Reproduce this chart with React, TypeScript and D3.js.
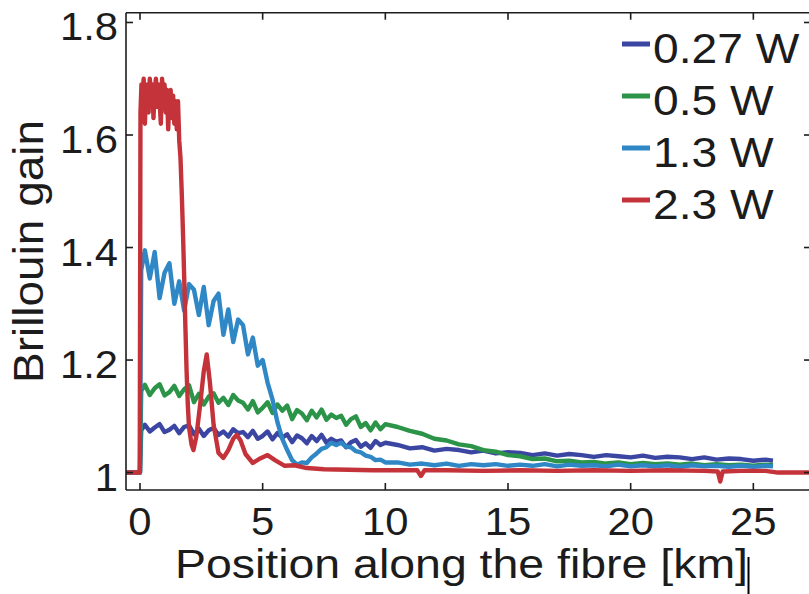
import React from "react";
import * as d3 from "d3";

// ---------- data ----------
const X_TICKS = [0, 5, 10, 15, 20, 25];
const Y_TICKS = [1, 1.2, 1.4, 1.6, 1.8];
const Y_TICK_LABELS = ["1", "1.2", "1.4", "1.6", "1.8"];

const SERIES_NAMES = ["0.27 W", "0.5 W", "1.3 W", "2.3 W"];
const SERIES_COLORS = ["#3b46a2", "#2b9448", "#2f87c6", "#c4333a"];

// shared position grid (km) for the 0.27 W, 0.5 W and 1.3 W traces
const X_GRID = [
  -0.57, 0, 0.05,
  0.2, 0.4, 0.6, 0.8, 1.0, 1.2, 1.4, 1.6, 1.8, 2.0,
  2.2, 2.4, 2.6, 2.8, 3.0, 3.2, 3.4, 3.6, 3.8, 4.0,
  4.2, 4.4, 4.6, 4.8, 5.0, 5.2, 5.4, 5.6, 5.8, 6.0,
  6.2, 6.4, 6.6, 6.8, 7.0, 7.2, 7.4, 7.6, 7.8, 8.0,
  8.2, 8.4, 8.6, 8.8, 9.0, 9.2, 9.4, 9.6, 9.8, 10.0,
  10.5, 11, 11.5, 12, 12.5, 13, 13.5, 14, 14.5, 15, 15.5, 16, 16.5, 17, 17.5,
  18, 18.5, 19, 19.5, 20, 20.5, 21, 21.5, 22, 22.5, 23, 23.5, 24, 24.5, 25, 25.5,
  25.8,
];

const GAIN_027 = [
  1.0, 1.0, 1.075,
  1.085, 1.073, 1.080, 1.086, 1.072, 1.076, 1.083, 1.070, 1.081, 1.084,
  1.068, 1.078, 1.065, 1.075, 1.079, 1.067, 1.073, 1.064, 1.077, 1.070,
  1.072, 1.063, 1.074, 1.060, 1.065, 1.073, 1.059, 1.070, 1.062, 1.068,
  1.054, 1.066, 1.061, 1.052, 1.065, 1.056, 1.067, 1.053, 1.060, 1.055,
  1.057, 1.045, 1.054, 1.058, 1.046, 1.052, 1.044, 1.056, 1.049, 1.053,
  1.049, 1.043, 1.045, 1.039, 1.042, 1.040, 1.036, 1.039, 1.034, 1.036, 1.035, 1.031, 1.034, 1.030, 1.033,
  1.031, 1.028, 1.031, 1.029, 1.027, 1.030, 1.026, 1.028, 1.027, 1.024, 1.027, 1.023, 1.025, 1.024, 1.021, 1.023,
  1.021,
];

const GAIN_05 = [
  1.0, 1.0, 1.145,
  1.156, 1.138, 1.150, 1.157, 1.137, 1.143, 1.154, 1.136, 1.148, 1.155,
  1.125, 1.140, 1.121, 1.135, 1.141, 1.124, 1.133, 1.120, 1.138, 1.128,
  1.124, 1.112, 1.127, 1.107, 1.115, 1.125, 1.106, 1.121, 1.110, 1.119,
  1.095, 1.111, 1.105, 1.093, 1.110, 1.098, 1.112, 1.094, 1.103, 1.097,
  1.101, 1.085, 1.095, 1.100, 1.081, 1.088, 1.075, 1.089, 1.077, 1.086,
  1.081, 1.074, 1.069, 1.060, 1.057, 1.050, 1.047, 1.040, 1.037, 1.031, 1.029, 1.024, 1.025, 1.020, 1.021,
  1.018, 1.019, 1.016, 1.018, 1.015, 1.017, 1.015, 1.016, 1.014, 1.016, 1.013, 1.015, 1.013, 1.014, 1.012, 1.014,
  1.013,
];

const GAIN_13 = [
  1.0, 1.0, 1.36,
  1.395, 1.345, 1.392, 1.31, 1.355, 1.372, 1.30, 1.34, 1.288, 1.335,
  1.325, 1.28, 1.33, 1.262, 1.305, 1.318, 1.245, 1.29, 1.232, 1.272,
  1.262, 1.21, 1.24, 1.19, 1.2, 1.16, 1.13, 1.09, 1.06, 1.04,
  1.022, 1.014, 1.018, 1.017, 1.027, 1.034, 1.042, 1.045, 1.053, 1.049,
  1.053, 1.046, 1.045, 1.038, 1.036, 1.030, 1.028, 1.022, 1.023, 1.018,
  1.018, 1.014, 1.016, 1.013, 1.016, 1.012, 1.015, 1.013, 1.015, 1.012, 1.014, 1.012, 1.015, 1.011, 1.014,
  1.012, 1.013, 1.011, 1.014, 1.011, 1.013, 1.011, 1.013, 1.010, 1.013, 1.011, 1.012, 1.010, 1.012, 1.010, 1.012,
  1.011,
];

// 2.3 W trace has its own grid (denser over the plateau and ripples)
const X_23 = [
  -0.57, -0.01, 0.02, 0.06, 0.1, 0.15, 0.2, 0.25, 0.3, 0.35, 0.4, 0.45, 0.5, 0.55,
  0.6, 0.65, 0.7, 0.75, 0.8, 0.85, 0.9, 0.95, 1.0, 1.05, 1.1, 1.15, 1.2, 1.25, 1.3,
  1.35, 1.4, 1.45, 1.5, 1.55, 1.6, 1.65, 1.7, 1.75, 1.8, 1.85, 1.9, 1.95, 2.0, 2.1,
  2.18, 2.3, 2.45, 2.6, 2.72, 2.85, 3.0, 3.2, 3.4, 3.6, 3.8, 3.95, 4.1, 4.3, 4.6, 4.9,
  5.2, 5.5, 5.9, 6.3, 6.8, 7.5, 8.5, 9.5, 10.5, 11.3, 11.45, 11.6, 12.5, 14, 15.5,
  17, 18.5, 20, 21.5, 23, 23.55, 23.65, 23.75, 24.5, 25.5, 26, 27.4,
];
const GAIN_23 = [
  1.0, 1.0, 1.64, 1.69, 1.67, 1.70, 1.62, 1.68, 1.69, 1.64, 1.70, 1.67, 1.69, 1.63,
  1.68, 1.70, 1.65, 1.69, 1.66, 1.62, 1.70, 1.67, 1.69, 1.64, 1.68, 1.61, 1.67, 1.68, 1.63,
  1.67, 1.62, 1.66, 1.61, 1.66, 1.59, 1.56, 1.50, 1.43, 1.35, 1.26, 1.18, 1.12, 1.08, 1.05,
  1.04, 1.065, 1.12, 1.18, 1.21, 1.16, 1.085, 1.035, 1.026, 1.04, 1.06, 1.067, 1.057, 1.033, 1.017, 1.025,
  1.031, 1.022, 1.012, 1.013, 1.008, 1.006, 1.005, 1.004, 1.004, 1.004, 0.994, 1.004, 1.004, 1.003, 1.004,
  1.003, 1.004, 1.003, 1.004, 1.003, 1.002, 0.984, 1.002, 1.003, 1.003, 1.0, 1.0,
];

// ---------- layout ----------
const W = 809;
const H = 594;
const LEFT = 126;
const RIGHT = 811;
const TOP = 12.7;
const BOTTOM = 490;
const TICK = 7;
const FONT = "'Liberation Sans', Arial, Helvetica, sans-serif";
const INK = "#1c1c1c";

export default function App() {
  const x = d3.scaleLinear().domain([-0.57, 27.35]).range([LEFT, RIGHT]);
  const y = d3.scaleLinear().domain([0.969, 1.8174]).range([BOTTOM, TOP]);

  const line = d3
    .line<[number, number]>()
    .x((d) => x(d[0]))
    .y((d) => y(d[1]));

  const zip = (xs: number[], ys: number[]) =>
    xs.map((v, i) => [v, ys[i]] as [number, number]);

  const series = [
    zip(X_GRID, GAIN_027),
    zip(X_GRID, GAIN_05),
    zip(X_GRID, GAIN_13),
    zip(X_23, GAIN_23),
  ];

  return (
    <svg
      width={W}
      height={H}
      style={{ position: "absolute", left: 0, top: 0, background: "#fff" }}
      fontFamily={FONT}
    >
      <defs>
        <clipPath id="plotClip">
          <rect x={LEFT} y={TOP} width={RIGHT - LEFT} height={BOTTOM - TOP} />
        </clipPath>
      </defs>

      {/* traces */}
      <g clipPath="url(#plotClip)">
        {series.map((s, i) => (
          <path
            key={i}
            d={line(s) || ""}
            fill="none"
            stroke={SERIES_COLORS[i]}
            strokeWidth={4.4}
            strokeLinejoin="round"
          />
        ))}
      </g>

      {/* axes box */}
      <g stroke={INK} strokeWidth={1.6} fill="none">
        <line x1={LEFT} x2={RIGHT} y1={TOP} y2={TOP} />
        <line x1={LEFT} x2={RIGHT} y1={BOTTOM} y2={BOTTOM} />
        <line x1={LEFT} x2={LEFT} y1={TOP} y2={BOTTOM} />
        <line x1={RIGHT} x2={RIGHT} y1={TOP} y2={BOTTOM} />
        {X_TICKS.map((t) => (
          <g key={"xt" + t}>
            <line x1={x(t)} x2={x(t)} y1={BOTTOM} y2={BOTTOM - TICK} />
            <line x1={x(t)} x2={x(t)} y1={TOP} y2={TOP + TICK} />
          </g>
        ))}
        {Y_TICKS.map((t) => (
          <g key={"yt" + t}>
            <line x1={LEFT} x2={LEFT + TICK} y1={y(t)} y2={y(t)} />
            <line x1={RIGHT} x2={RIGHT - TICK} y1={y(t)} y2={y(t)} />
          </g>
        ))}
      </g>

      {/* tick labels */}
      <g fill={INK} fontSize={38}>
        {X_TICKS.map((t) => (
          <g key={"xl" + t} transform={`translate(${x(t)},${BOTTOM + 45}) scale(1.1,1)`}>
            <text textAnchor="middle">{String(t)}</text>
          </g>
        ))}
        {Y_TICKS.map((t, i) => (
          <g key={"yl" + t} transform={`translate(${LEFT - 8},${y(t) + 18}) scale(1.1,1)`}>
            <text textAnchor="end">{Y_TICK_LABELS[i]}</text>
          </g>
        ))}
      </g>

      {/* axis titles */}
      <text
        x={461.5}
        y={578}
        fontSize={40}
        fill={INK}
        textAnchor="middle"
        textLength={573}
        lengthAdjust="spacingAndGlyphs"
      >
        Position along the fibre [km]
      </text>
      <text
        transform="translate(43,251.5) rotate(-90)"
        fontSize={42}
        fill={INK}
        textAnchor="middle"
        textLength={263}
        lengthAdjust="spacingAndGlyphs"
      >
        Brillouin gain
      </text>

      {/* legend */}
      <g>
        {SERIES_NAMES.map((name, i) => {
          const base = 63 + i * 52;
          return (
            <g key={name}>
              <line
                x1={622}
                x2={650}
                y1={base - 19}
                y2={base - 19}
                stroke={SERIES_COLORS[i]}
                strokeWidth={5}
              />
              <g transform={`translate(653,${base}) scale(1.1,1)`}>
                <text fontSize={42} fill={INK}>
                  {name}
                </text>
              </g>
            </g>
          );
        })}
      </g>

      {/* cursor mark next to the x-axis title */}
      <line x1={748.5} x2={748.5} y1={557} y2={594} stroke="#000" strokeWidth={2} />
    </svg>
  );
}
